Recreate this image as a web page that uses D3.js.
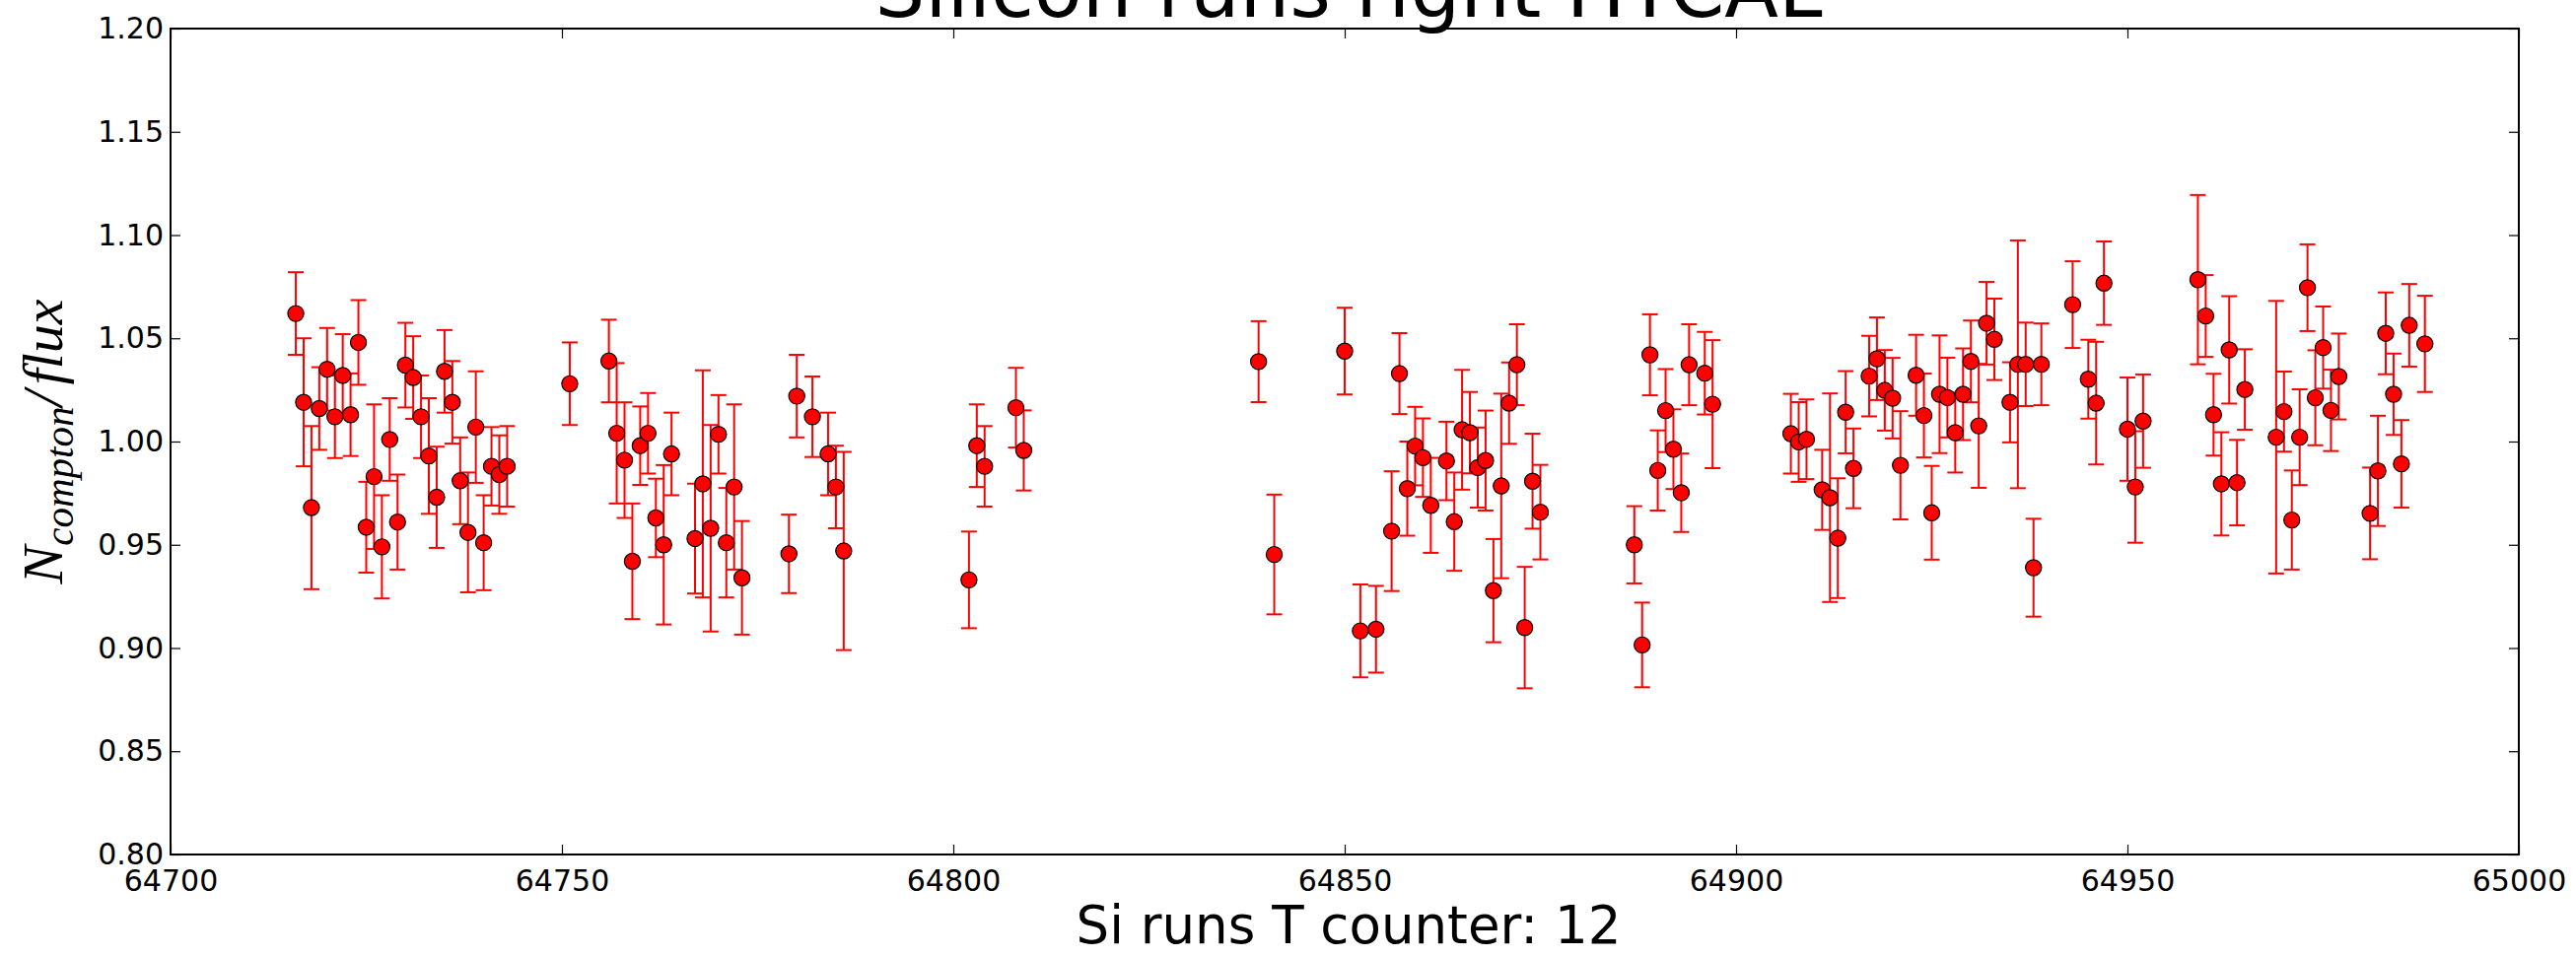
<!DOCTYPE html>
<html>
<head>
<meta charset="utf-8">
<script src="https://cdn.jsdelivr.net/npm/d3@7"></script>
<style>
  html, body { margin: 0; padding: 0; background: #ffffff; }
  svg { display: block; }
</style>
</head>
<body>
<svg id="chart" width="2613" height="971"></svg>
<script>
// ---- data ----
const runs = [
  64716,64717,64718,64719,64720,64721,64722,64723,64724,64725,64726,64727,64728,64729,
  64730,64731,64732,64733,64734,64735,64736,64737,64738,64739,64740,64741,64742,64743,
  64751,64756,64757,64758,64759,64760,64761,64762,64763,64764,64767,64768,64769,64770,
  64771,64772,64773,64779,64780,64782,64784,64785,64786,
  64802,64803,64804,64808,64809,64839,64841,
  64850,64852,64854,64856,64857,64858,64859,64860,64861,64863,64864,64865,64866,64867,
  64868,64869,64870,64871,64872,64873,64874,64875,64887,64888,64889,64890,64891,64892,
  64893,64894,64896,64897,
  64907,64908,64909,64911,64912,64913,64914,64915,64917,64918,64919,64920,64921,64923,
  64924,64925,64926,64927,64928,64929,64930,64931,64932,64933,64935,64936,64937,64938,
  64939,64943,64945,64946,64947,64950,64951,64952,
  64959,64960,64961,64962,64963,64964,64965,64969,64970,64971,64972,64973,64974,64975,
  64976,64977,64981,64982,64983,64984,64985,64986,64988
];
const ratio = [
  1.062,1.019,0.968,1.016,1.035,1.012,1.032,1.013,1.048,0.9585,0.983,0.949,1.001,0.961,
  1.037,1.031,1.012,0.993,0.973,1.034,1.019,0.981,0.956,1.007,0.951,0.988,0.984,0.988,
  1.028,1.039,1.004,0.991,0.942,0.998,1.004,0.963,0.950,0.994,0.953,0.9795,0.958,1.0035,
  0.951,0.978,0.934,0.9456,1.022,1.012,0.994,0.978,0.947,
  0.933,0.998,0.988,1.0164,0.9957,1.0387,0.9453,
  1.0438,0.9083,0.9091,0.9566,1.0329,0.9772,0.9978,0.9922,0.9691,0.9906,0.9612,1.0057,1.0043,0.9874,
  0.9908,0.9278,0.9785,1.0186,1.0372,0.9099,0.9808,0.9658,0.950,0.9015,1.042,0.986,1.015,0.9963,
  0.9752,1.0372,1.0331,1.0181,
  1.0038,0.9998,1.0011,0.9766,0.9728,0.9532,1.0142,0.987,1.0317,1.0401,1.0248,1.021,0.9885,1.0321,
  1.0126,0.9655,1.0229,1.0213,1.0043,1.0229,1.0388,1.0076,1.0573,1.0495,1.019,1.0374,1.0374,0.9389,
  1.0374,1.0663,1.0302,1.0186,1.0767,1.006,0.978,1.0099,
  1.0784,1.0608,1.013,0.9795,1.0444,0.9801,1.0252,1.0021,1.0145,0.962,1.0021,1.0745,1.0212,1.0455,
  1.0151,1.0315,0.9652,0.9858,1.0524,1.0229,0.9892,1.0563,1.0473
];
const ratioErr = [
  0.020,0.031,0.0395,0.020,0.020,0.020,0.020,0.020,0.0205,0.022,0.035,0.025,0.020,0.023,
  0.0205,0.020,0.020,0.028,0.0245,0.020,0.020,0.021,0.029,0.027,0.023,0.019,0.019,0.0195,
  0.020,0.020,0.034,0.028,0.028,0.019,0.0195,0.019,0.0386,0.020,0.0266,0.055,0.050,0.019,
  0.0265,0.040,0.0275,0.019,0.020,0.0195,0.020,0.020,0.048,
  0.0234,0.020,0.0195,0.0193,0.0194,0.0196,0.029,
  0.021,0.0225,0.021,0.029,0.0196,0.0228,0.019,0.019,0.023,0.019,0.0238,0.029,0.0197,0.0194,
  0.0242,0.025,0.0447,0.0197,0.0196,0.0294,0.023,0.0229,0.0187,0.0205,0.0196,0.0194,0.0201,0.0193,
  0.019,0.0196,0.020,0.031,
  0.0193,0.0193,0.0193,0.0194,0.0505,0.029,0.0199,0.0193,0.0195,0.020,0.0195,0.0195,0.0262,0.0196,
  0.0203,0.0227,0.0285,0.0193,0.0193,0.0222,0.0198,0.030,0.020,0.0197,0.0194,0.060,0.0202,0.0237,
  0.0198,0.021,0.0191,0.0297,0.0202,0.025,0.027,0.0226,
  0.041,0.0198,0.0198,0.025,0.026,0.0207,0.0195,0.066,0.0194,0.024,0.0232,0.021,0.023,0.0199,
  0.0197,0.0208,0.0222,0.0267,0.0198,0.0197,0.0212,0.020,0.0233
];
const xTicks = [64700,64750,64800,64850,64900,64950,65000];
const yTicks = [0.80,0.85,0.90,0.95,1.00,1.05,1.10,1.15,1.20];
const titleText = "Silicon runs right HYCAL";
const xLabelText = "Si runs T counter: 12";

// ---- layout ----
const W = 2613, H = 971;
const margin = {left: 173, right: 58, top: 29, bottom: 104};
const iw = W - margin.left - margin.right;
const ih = H - margin.top - margin.bottom;

const svg = d3.select("#chart");
const g = svg.append("g").attr("transform", `translate(${margin.left},${margin.top})`);

const x = d3.scaleLinear().domain([64700, 65000]).range([0, iw]);
const y = d3.scaleLinear().domain([0.80, 1.20]).range([ih, 0]);

const FONT = "'DejaVu Sans', 'Bitstream Vera Sans', sans-serif";
const points = runs.map((r, i) => ({run: r, v: ratio[i], e: ratioErr[i]}));

// error bars
const red = "#ff0000";
const cap = 8;
const eb = g.append("g").attr("class", "errorbars");
eb.selectAll("line.v").data(points).join("line")
  .attr("class", "v")
  .attr("x1", d => x(d.run)).attr("x2", d => x(d.run))
  .attr("y1", d => y(d.v + d.e)).attr("y2", d => y(d.v - d.e))
  .attr("stroke", red).attr("stroke-width", 2);
eb.selectAll("line.ct").data(points).join("line")
  .attr("class", "ct")
  .attr("x1", d => x(d.run) - cap).attr("x2", d => x(d.run) + cap)
  .attr("y1", d => y(d.v + d.e)).attr("y2", d => y(d.v + d.e))
  .attr("stroke", red).attr("stroke-width", 2);
eb.selectAll("line.cb").data(points).join("line")
  .attr("class", "cb")
  .attr("x1", d => x(d.run) - cap).attr("x2", d => x(d.run) + cap)
  .attr("y1", d => y(d.v - d.e)).attr("y2", d => y(d.v - d.e))
  .attr("stroke", red).attr("stroke-width", 2);

// markers
g.append("g").attr("class", "markers")
  .selectAll("circle").data(points).join("circle")
  .attr("cx", d => x(d.run)).attr("cy", d => y(d.v))
  .attr("r", 8.1)
  .attr("fill", red).attr("stroke", "#000").attr("stroke-width", 1.2);

// axes (inward ticks, classic style)
const tickLen = 10;
const fmtY = d3.format(".2f");
const axL = g.append("g").call(d3.axisLeft(y).tickValues(yTicks).tickFormat(fmtY)
  .tickSizeInner(-tickLen).tickSizeOuter(0).tickPadding(7));
const axB = g.append("g").attr("transform", `translate(0,${ih})`)
  .call(d3.axisBottom(x).tickValues(xTicks).tickFormat(d3.format("d"))
  .tickSizeInner(-tickLen).tickSizeOuter(0).tickPadding(16));
const axR = g.append("g").attr("transform", `translate(${iw},0)`)
  .call(d3.axisRight(y).tickValues(yTicks).tickFormat("")
  .tickSizeInner(-tickLen).tickSizeOuter(0));
const axT = g.append("g")
  .call(d3.axisTop(x).tickValues(xTicks).tickFormat("")
  .tickSizeInner(-tickLen).tickSizeOuter(0));
[axL, axB, axR, axT].forEach(a => {
  a.select(".domain").remove();
  a.selectAll(".tick line").attr("stroke", "#000").attr("stroke-width", 1.2);
  a.selectAll(".tick text").attr("fill", "#000")
    .style("font-family", FONT).style("font-size", "30px");
});

// frame
g.append("rect").attr("x", 0).attr("y", 0).attr("width", iw).attr("height", ih)
  .attr("fill", "none").attr("stroke", "#000").attr("stroke-width", 2);

// title (partly cut off at top, as in the reference)
svg.append("text")
  .attr("x", margin.left + iw / 2 + 4).attr("y", 17)
  .attr("text-anchor", "middle")
  .style("font-family", FONT).style("font-size", "80px")
  .attr("fill", "#000").text(titleText);

// x label
svg.append("text")
  .attr("x", margin.left + iw / 2 + 4).attr("y", 957)
  .attr("text-anchor", "middle")
  .style("font-family", FONT).style("font-size", "53px")
  .attr("fill", "#000").text(xLabelText);

// y label: N_{compton}/flux (math italic)
const yl = svg.append("text")
  .attr("transform", `translate(63,${margin.top + ih / 2}) rotate(-90)`)
  .attr("text-anchor", "middle")
  .style("font-family", "'Liberation Serif', 'DejaVu Serif', serif")
  .style("font-style", "italic")
  .style("font-size", "58px")
  .attr("fill", "#000");
yl.append("tspan").text("N");
yl.append("tspan").attr("dy", 11).style("font-size", "41px").text("compton");
yl.append("tspan").attr("dy", -11).text("/");
yl.append("tspan").attr("dx", 6).text("flux");
</script>
</body>
</html>
